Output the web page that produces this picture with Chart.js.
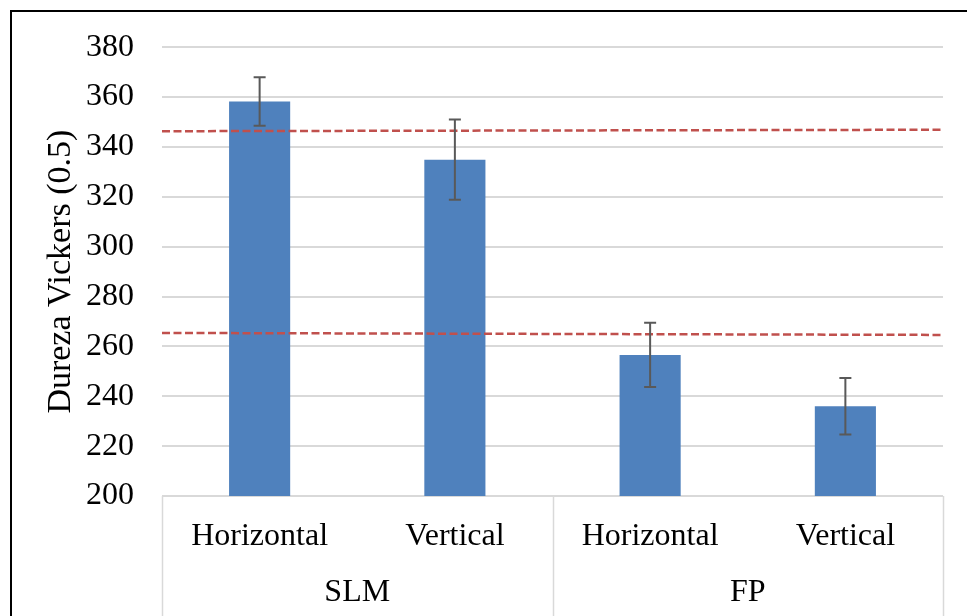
<!DOCTYPE html>
<html>
<head>
<meta charset="utf-8">
<script src="https://cdn.jsdelivr.net/npm/chart.js@4"></script>
<style>
  html, body { margin: 0; padding: 0; background: #fff; }
  #wrap { width: 967px; height: 616px; position: relative; }
</style>
</head>
<body>
<div id="wrap"><canvas id="c" width="967" height="616"></canvas></div>
<script>
// Hardness per build orientation, grouped by process
const categories = ['Horizontal', 'Vertical', 'Horizontal', 'Vertical'];
const groups = ['SLM', 'FP'];
const hardness = [358.2, 334.9, 256.6, 236.0];
const hardnessError = [9.7, 16.1, 12.9, 11.3];
// Reference levels (start and end of each dashed line)
const upperLevel = [346.3, 346.9];
const lowerLevel = [265.4, 264.6];
const yTicks = [200, 220, 240, 260, 280, 300, 320, 340, 360, 380];

const FONT = 'Liberation Serif, "Times New Roman", serif';
const GRID = '#d9d9d9';

const errorBars = {
  id: 'errorBars',
  afterDatasetsDraw(chart) {
    const ctx = chart.ctx;
    const meta = chart.getDatasetMeta(0);
    const y = chart.scales.y;
    ctx.save();
    ctx.strokeStyle = '#595959';
    ctx.lineWidth = 2;
    meta.data.forEach((bar, i) => {
      const top = y.getPixelForValue(hardness[i] + hardnessError[i]);
      const bot = y.getPixelForValue(hardness[i] - hardnessError[i]);
      const cx = bar.x;
      ctx.beginPath();
      ctx.moveTo(cx, top); ctx.lineTo(cx, bot);
      ctx.moveTo(cx - 6, top); ctx.lineTo(cx + 6, top);
      ctx.moveTo(cx - 6, bot); ctx.lineTo(cx + 6, bot);
      ctx.stroke();
    });
    ctx.restore();
  }
};

const frameAndSeparators = {
  id: 'frameAndSeparators',
  afterDraw(chart) {
    const ctx = chart.ctx;
    const area = chart.chartArea;
    const x = chart.scales.x;
    const mid = (x.getPixelForValue(1) + x.getPixelForValue(2)) / 2;
    ctx.save();
    ctx.strokeStyle = GRID;
    ctx.lineWidth = 1.5;
    [area.left, mid, area.right].forEach(px => {
      ctx.beginPath();
      ctx.moveTo(Math.round(px) + 0.5, area.bottom);
      ctx.lineTo(Math.round(px) + 0.5, chart.height);
      ctx.stroke();
    });
    ctx.strokeStyle = '#000';
    ctx.lineWidth = 2;
    ctx.beginPath();
    ctx.moveTo(11, chart.height);
    ctx.lineTo(11, 11);
    ctx.lineTo(chart.width, 11);
    ctx.stroke();
    ctx.restore();
  }
};

new Chart(document.getElementById('c'), {
  type: 'bar',
  data: {
    labels: categories,
    datasets: [
      {
        type: 'bar',
        data: hardness,
        backgroundColor: '#4f81bd',
        borderWidth: 0,
        grouped: false,
        barPercentage: 1,
        categoryPercentage: 0.313,
        xAxisID: 'x',
        order: 2
      },
      {
        type: 'line',
        data: [{x: 0, y: upperLevel[0]}, {x: 1, y: upperLevel[1]}],
        borderColor: '#c0504d',
        borderWidth: 2.5,
        borderDash: [8, 3.5],
        pointRadius: 0,
        fill: false,
        xAxisID: 'xr',
        order: 1
      },
      {
        type: 'line',
        data: [{x: 0, y: lowerLevel[0]}, {x: 1, y: lowerLevel[1]}],
        borderColor: '#c0504d',
        borderWidth: 2.5,
        borderDash: [8, 3.5],
        pointRadius: 0,
        fill: false,
        xAxisID: 'xr',
        order: 1
      }
    ]
  },
  options: {
    responsive: false,
    animation: false,
    layout: { padding: { left: 0, top: 42, right: 24, bottom: 0 } },
    plugins: { legend: { display: false }, tooltip: { enabled: false } },
    scales: {
      y: {
        min: 200, max: 380,
        afterBuildTicks(scale) { scale.ticks = yTicks.map(v => ({ value: v })); },
        afterFit(scale) { scale.width = 162; },
        grid: { color: GRID, lineWidth: 2, drawTicks: false },
        border: { display: false },
        ticks: { color: '#000', font: { family: FONT, size: 32 }, padding: 28 },
        title: {
          display: true,
          text: 'Dureza Vickers (0.5)',
          color: '#000',
          font: { family: FONT, size: 34 },
          padding: { top: 41, bottom: 0 }
        }
      },
      x: {
        type: 'category',
        position: 'bottom',
        offset: true,
        afterFit(scale) { scale.height = 60; },
        grid: { display: false },
        border: { display: false },
        ticks: { color: '#000', font: { family: FONT, size: 32 }, padding: 13, maxRotation: 0 }
      },
      xg: {
        type: 'category',
        position: 'bottom',
        offset: true,
        labels: groups,
        afterFit(scale) { scale.height = 60; },
        grid: { display: false },
        border: { display: false },
        ticks: { color: '#000', font: { family: FONT, size: 32 }, padding: 9, maxRotation: 0 }
      },
      xr: {
        type: 'linear',
        display: false,
        offset: false,
        min: 0, max: 1
      }
    }
  },
  plugins: [errorBars, frameAndSeparators]
});
</script>
</body>
</html>
